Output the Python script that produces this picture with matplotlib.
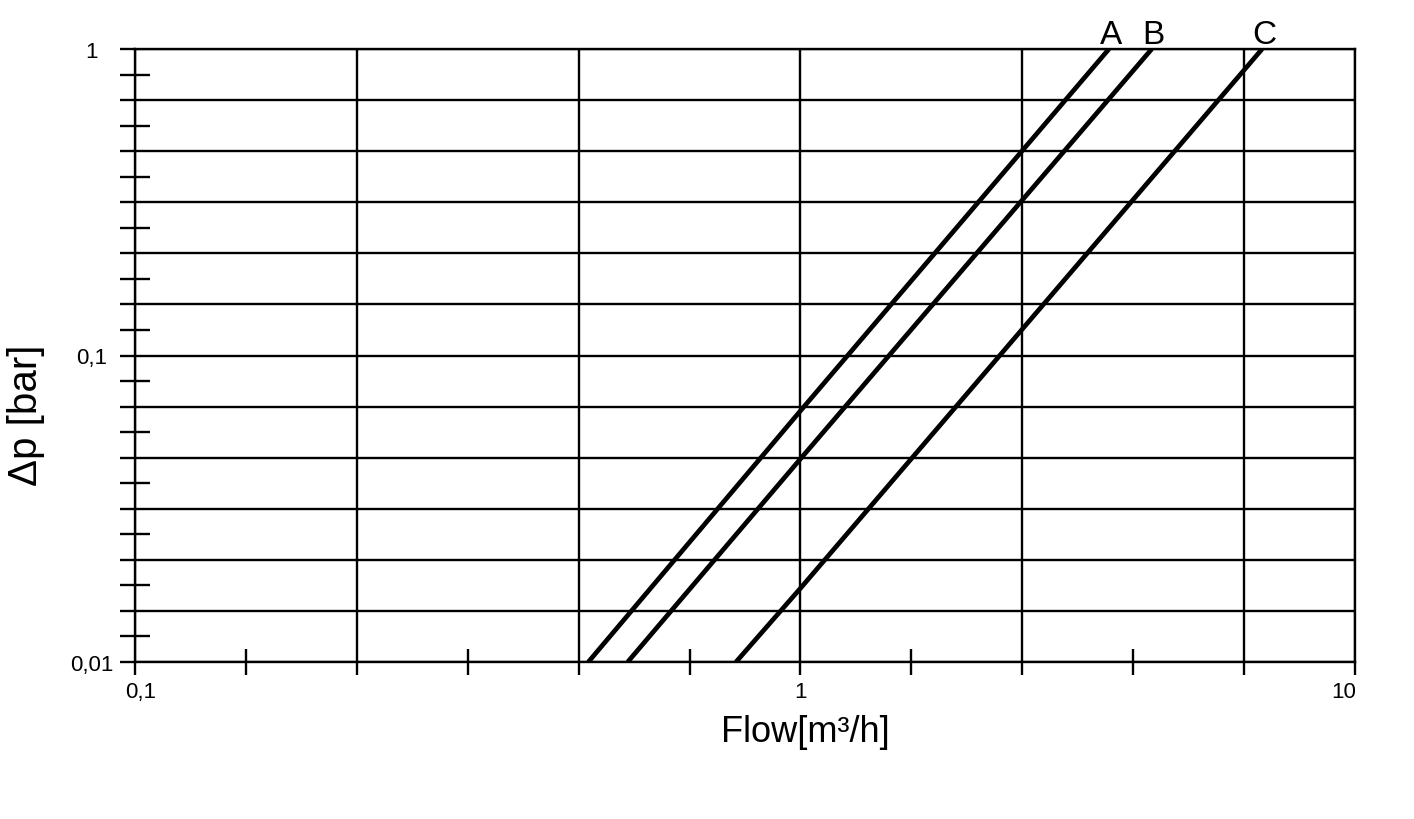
import numpy as np
import matplotlib
matplotlib.use('Agg')
import matplotlib.pyplot as plt
from matplotlib.transforms import ScaledTranslation

# ========== DATA ==========
# each curve: points at dp=0.01, at flow=1, and at dp=1
flow_A = [0.48, 1.0, 3.6]
dp_A = [0.01, 0.066, 1.0]
flow_B = [0.55, 1.0, 4.3]
dp_B = [0.01, 0.046, 1.0]
flow_C = [0.80, 1.0, 6.8]
dp_C = [0.01, 0.0174, 1.0]
curve_names = ['A', 'B', 'C']

x_tick_values = [0.1, 1, 10]
x_tick_labels = ['0,1', '1', '10']
y_tick_values = [0.01, 0.1, 1]
y_tick_labels = ['0,01', '0,1', '1']
# ==========================

plt.rcParams['font.family'] = ['Liberation Sans', 'DejaVu Sans']


# the flow axis is drawn as a schematic grid: 3 cells for 0.1-1, 2.5 cells for 1-10
def fwd(x):
    x = np.clip(np.asarray(x, dtype=float), 1e-6, None)
    lx = np.log10(x)
    return np.where(lx <= 0, 3 * (lx + 1), 3 + 2.5 * lx)


def inv(u):
    u = np.asarray(u, dtype=float)
    return np.where(u <= 3, 10 ** (u / 3 - 1), 10 ** ((u - 3) / 2.5))


fig = plt.figure(figsize=(14.14, 8.2), dpi=100)
ax = fig.add_axes([135 / 1414, 1 - 663 / 820, 1220 / 1414, 613 / 820])

ax.set_xscale('function', functions=(fwd, inv))
ax.set_yscale('log')
ax.set_xlim(0.1, 10)
ax.set_ylim(0.01, 1)

# grid cells
x_major = inv([0, 1, 2, 3, 4, 5, 5.5])
x_minor = inv([0.5, 1.5, 2.5, 3.5, 4.5])
y_major = 10 ** np.linspace(-2, 0, 13)
y_minor = 10 ** (np.linspace(-2, 0, 13)[:-1] + 1 / 12)

x_lbl = []
for v in x_major:
    hit = [l for tv, l in zip(x_tick_values, x_tick_labels) if np.isclose(v, tv)]
    x_lbl.append(hit[0] if hit else '')
y_lbl = []
for v in y_major:
    hit = [l for tv, l in zip(y_tick_values, y_tick_labels) if np.isclose(v, tv)]
    y_lbl.append(hit[0] if hit else '')

ax.set_xticks(x_major, x_lbl)
ax.set_xticks(x_minor, minor=True, labels=[])
ax.set_yticks(y_major, y_lbl)
ax.set_yticks(y_minor, minor=True, labels=[])

ax.grid(True, which='major', color='black', linewidth=1.7)
ax.tick_params(axis='x', which='major', direction='out', length=9.5, width=1.7, pad=4, labelsize=16)
ax.tick_params(axis='x', which='minor', direction='inout', length=19, width=1.7)
ax.tick_params(axis='y', which='major', direction='out', length=11, width=1.7, pad=20, labelsize=16)
ax.tick_params(axis='y', which='minor', direction='inout', length=21.5, width=1.7)
for lab in ax.get_yticklabels():
    lab.set_horizontalalignment('center')

# nudge the end labels of the flow axis like the original
shifts = {'0,1': 6, '10': -11}
for lab in ax.get_xticklabels():
    dx = shifts.get(lab.get_text(), 0)
    if dx:
        lab.set_transform(lab.get_transform() + ScaledTranslation(dx / 100, 0, fig.dpi_scale_trans))

for s in ax.spines.values():
    s.set_linewidth(1.7)
    s.set_color('black')

for name, fl, dp in zip(curve_names, [flow_A, flow_B, flow_C], [dp_A, dp_B, dp_C]):
    ax.plot(fl, dp, color='black', linewidth=3.4, solid_capstyle='butt', zorder=3)
    ax.annotate(name, (fl[-1], dp[-1]), xytext=(1.5, 4.5), textcoords='offset points',
                ha='center', va='baseline', fontsize=24, annotation_clip=False)

ax.set_xlabel('Flow[m³/h]', fontsize=26, va='center')
ax.xaxis.set_label_coords((805 - 135) / 1220, -(733 - 663) / 613)
ax.set_ylabel('Δp [bar]', fontsize=29, va='center')
ax.yaxis.set_label_coords((26 - 135) / 1220, 1 - (415 - 50) / 613)

fig.savefig('out.png', dpi=100)
